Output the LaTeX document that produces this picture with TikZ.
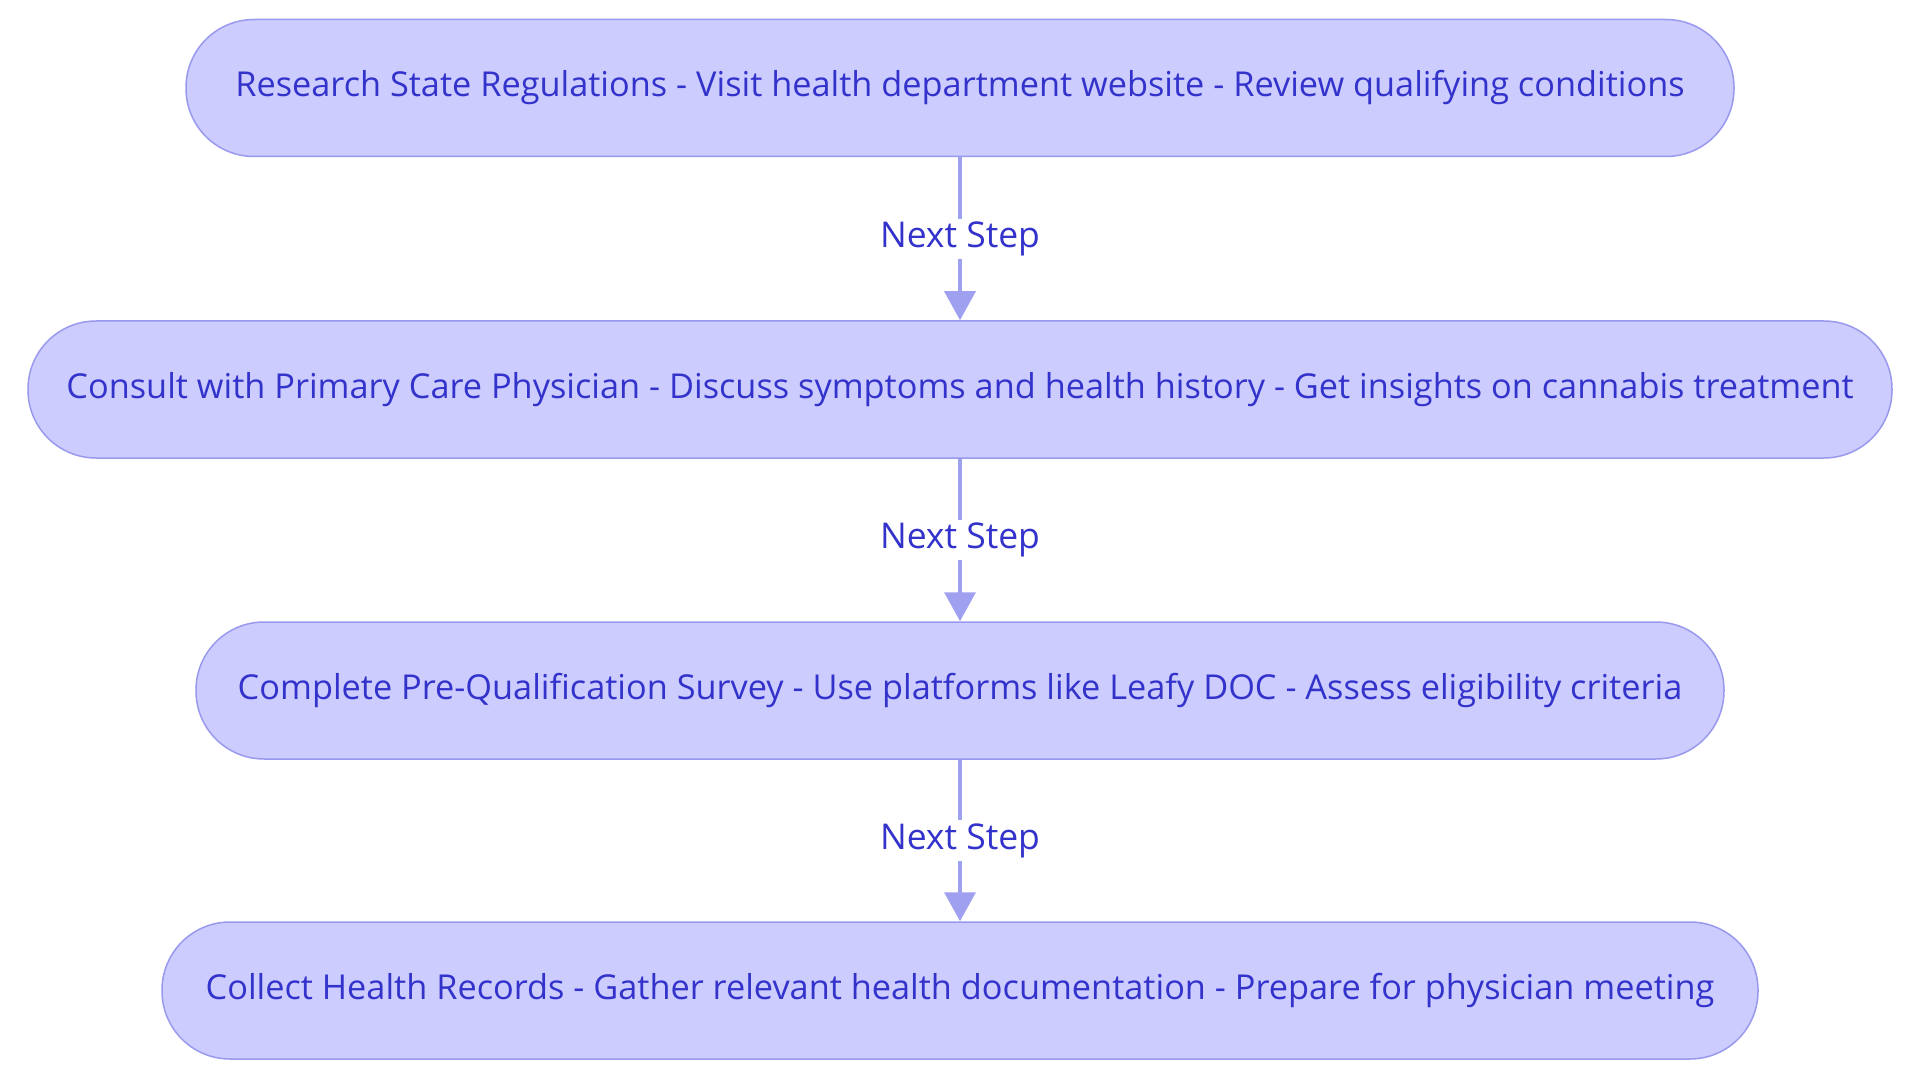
\documentclass[tikz,border=0pt]{standalone}
\usepackage{fontspec}
\setmainfont{Open Sans}
\usetikzlibrary{arrows.meta}
\definecolor{boxfill}{HTML}{CCCCFF}
\definecolor{boxline}{HTML}{9999EE}
\definecolor{txt}{HTML}{3333CC}
\definecolor{arr}{HTML}{A0A0F0}
\begin{document}
\begin{tikzpicture}[x=1pt,y=-1pt,
  stepbox/.style={draw=boxline,fill=boxfill,line width=1.5pt,rounded corners=68pt,
    minimum height=137pt,inner sep=0pt,text=txt,font=\fontsize{34.3}{40}\selectfont},
  conn/.style={draw=arr,line width=3.5pt,-{Triangle[width=31pt,length=29pt]}},
  lbl/.style={fill=white,text=txt,inner sep=3pt,font=\fontsize{35.5}{41}\selectfont}]
\useasboundingbox (0,0) rectangle (1920,1083);
\node[stepbox,minimum width=1548pt] (n1) at (960,88) {Research State Regulations - Visit health department website - Review qualifying conditions};
\node[stepbox,minimum width=1864pt] (n2) at (960,389.5) {Consult with Primary Care Physician - Discuss symptoms and health history - Get insights on cannabis treatment};
\node[stepbox,minimum width=1528pt] (n3) at (960,690.5) {Complete Pre-Qualification Survey - Use platforms like Leafy DOC - Assess eligibility criteria};
\node[stepbox,minimum width=1596pt] (n4) at (960,990.5) {Collect Health Records - Gather relevant health documentation - Prepare for physician meeting};
\draw[conn] (n1) -- node[lbl] {Next Step} (n2);
\draw[conn] (n2) -- node[lbl] {Next Step} (n3);
\draw[conn] (n3) -- node[lbl] {Next Step} (n4);
\end{tikzpicture}
\end{document}
